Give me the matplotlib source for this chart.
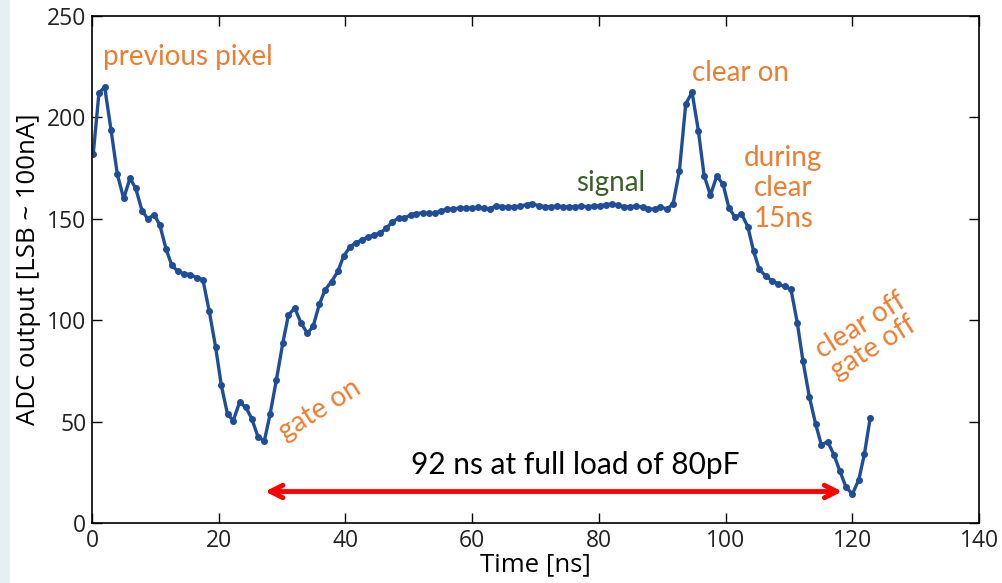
import matplotlib
matplotlib.use('Agg')
import matplotlib.pyplot as plt

# ── data ─────────────────────────────────────────────────────────────────
time_ns = [0.2, 1.1, 2.0, 3.0, 4.0, 5.0, 6.0, 6.9, 7.9, 8.8,
           9.8, 10.7, 11.7, 12.6, 13.6, 14.5, 15.5, 16.5, 17.5, 18.5,
           19.5, 20.4, 21.4, 22.3, 23.3, 24.3, 25.2, 26.2, 27.2, 28.1,
           29.1, 30.1, 31.0, 32.0, 33.0, 34.0, 34.9, 35.9, 36.8, 37.8,
           38.8, 39.7, 40.7, 41.6, 42.6, 43.6, 44.5, 45.5, 46.4, 47.4,
           48.4, 49.3, 50.3, 51.2, 52.2, 53.2, 54.1, 55.1, 56.1, 57.0,
           58.0, 59.0, 59.9, 60.9, 61.8, 62.8, 63.8, 64.7, 65.7, 66.6,
           67.6, 68.6, 69.5, 70.5, 71.5, 72.4, 73.4, 74.3, 75.3, 76.3,
           77.2, 78.2, 79.2, 80.1, 81.1, 82.1, 83.0, 84.0, 84.9, 85.9,
           86.9, 87.8, 88.8, 89.7, 90.7, 91.7, 92.7, 93.7, 94.7, 95.7,
           96.6, 97.6, 98.6, 99.6, 100.5, 101.5, 102.5, 103.5, 104.4, 105.3,
           106.3, 107.3, 108.3, 109.3, 110.3, 111.3, 112.2, 113.2, 114.2, 115.1,
           116.1, 117.1, 118.0, 119.0, 120.0, 121.0, 121.9, 122.8]
adc_out = [182, 212, 215, 194, 172, 160, 170, 165, 154, 150,
           152, 147, 135, 127, 124, 123, 122.5, 121, 120, 104.5,
           87, 68, 53.5, 50.5, 59.5, 57, 51.5, 42.5, 40.5, 53.5,
           70.5, 88.5, 102.5, 106, 98.5, 93.5, 97, 108, 115, 119,
           124, 131.5, 136, 138.2, 139.5, 141, 142, 143, 145.3, 148.3,
           150.5, 150.2, 152, 152.5, 153, 152.7, 152.7, 154, 154.7, 154.8,
           155.3, 155.3, 155.2, 155.7, 155.2, 154.8, 156.5, 156.0, 155.8, 156.0,
           156.2, 157.0, 157.4, 156.4, 156.0, 156.0, 156.2, 156.0, 156.0, 156.0,
           156.2, 156.0, 156.2, 156.4, 157.0, 157.3, 156.6, 156.0, 156.0, 156.2,
           155.8, 155.0, 154.7, 156.0, 154.7, 157.3, 173.6, 206.6, 212.4, 193.3,
           171.3, 161.7, 171.1, 167, 155.5, 150.7, 152.4, 146.1, 134.1, 125.1,
           121.8, 119.5, 117.8, 116.6, 115.3, 98.8, 79.9, 62.3, 48.8, 38.5,
           40.1, 33.5, 25.8, 17.6, 14.3, 21.2, 34, 51.6]

arrow_start, arrow_end, arrow_level = 27.3, 118.4, 15.5

ORANGE = '#ed7d31'
BLUE = '#1f4e99'
GREEN = '#3a5f2a'
FONT = ['Lato', 'DejaVu Sans']
TICKFONT = ['Liberation Sans Narrow', 'Open Sans', 'DejaVu Sans']
ANN = 20

fig = plt.figure(figsize=(10.03, 5.83), dpi=100)
fig.patches.append(plt.Rectangle((0, 0), 0.009, 1, transform=fig.transFigure,
                                 color='#e6f0f3', zorder=0))
ax = fig.add_axes([0.0917, 0.103, 0.8845, 0.8696])

ax.plot(time_ns, adc_out, color=BLUE, lw=2.4, marker='o', ms=4)

ax.set_xlim(0, 140)
ax.set_ylim(0, 250)
ax.set_xticks(range(0, 141, 20))
ax.set_yticks(range(0, 251, 50))
ax.tick_params(direction='in', top=True, right=True, length=7, width=1,
               labelsize=16.5, pad=4)
for lab in ax.get_xticklabels() + ax.get_yticklabels():
    lab.set_family(TICKFONT)
    lab.set_color('#222222')
for sp in ax.spines.values():
    sp.set_linewidth(1.2)

ax.set_xlabel('Time [ns]', fontsize=18.5, family=TICKFONT, labelpad=0)
ax.set_ylabel('ADC output [LSB ~ 100nA]', fontsize=18.5, family=TICKFONT, labelpad=4)

# ── annotations ──────────────────────────────────────────────────────────
ax.text(1.7, 230, 'previous pixel', color=ORANGE, fontsize=ANN, family=FONT, va='center')
ax.text(102.3, 222, 'clear on', color=ORANGE, fontsize=ANN, family=FONT, ha='center', va='center')
ax.text(109.1, 165, 'during\nclear\n15ns', color=ORANGE, fontsize=ANN, family=FONT,
        ha='center', va='center', linespacing=1.2)
ax.text(122.3, 92, 'clear off\ngate off', color=ORANGE, fontsize=ANN, family=FONT,
        ha='center', va='center', rotation=32, linespacing=1.0)
ax.text(36, 55.7, 'gate on', color=ORANGE, fontsize=ANN, family=FONT,
        ha='center', va='center', rotation=32)
ax.text(81.8, 167.6, 'signal', color=GREEN, fontsize=ANN, family=FONT, ha='center', va='center')
ax.text(76.2, 28.6, '92 ns at full load of 80pF', color='black', fontsize=21.5, family=FONT,
        ha='center', va='center')

ax.annotate('', xy=(arrow_end, arrow_level), xytext=(arrow_start, arrow_level),
            arrowprops=dict(arrowstyle='<->,head_length=0.9,head_width=0.45',
                            color='#ff0000', lw=3.5, shrinkA=0, shrinkB=0))

fig.savefig('out.png', dpi=100)
